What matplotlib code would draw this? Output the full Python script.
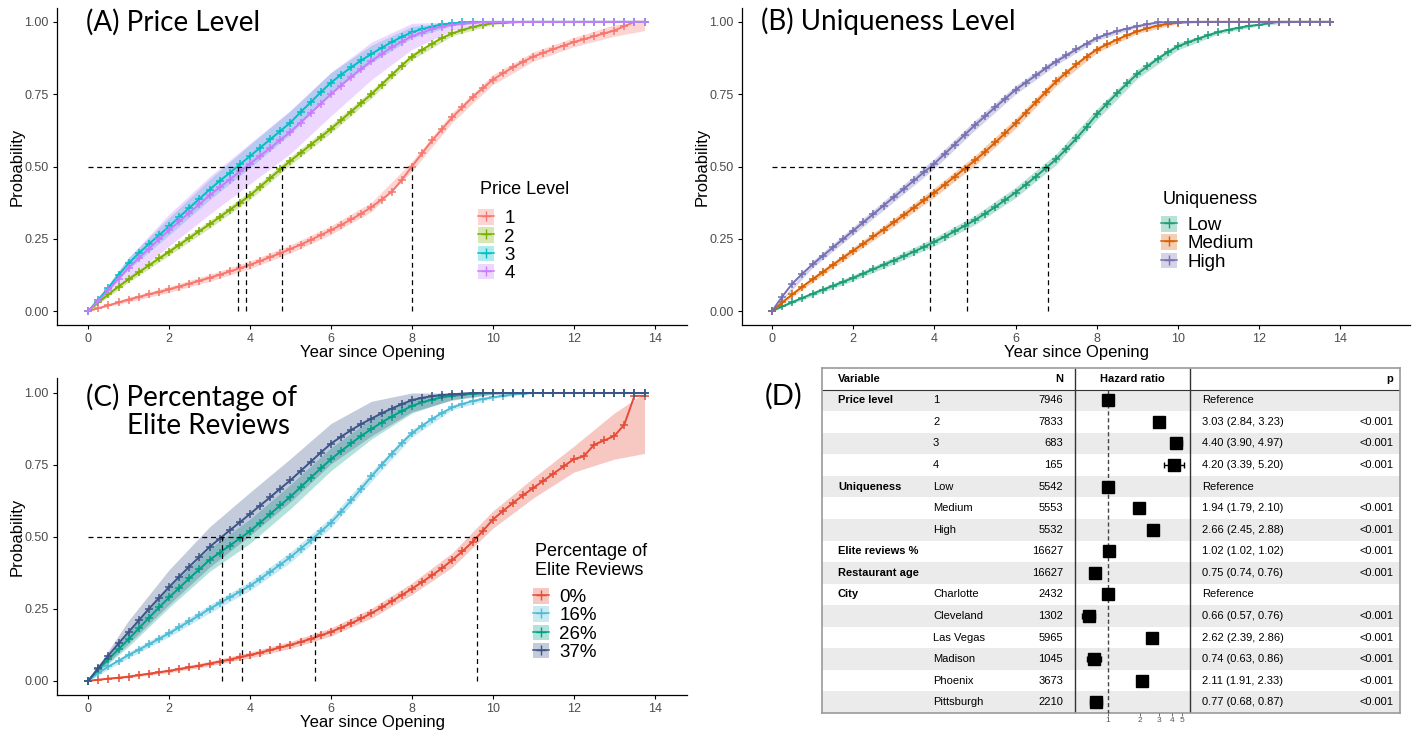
import numpy as np
import matplotlib
matplotlib.use('Agg')
import matplotlib.pyplot as plt
from matplotlib.patches import Patch, Rectangle
from matplotlib.lines import Line2D

plt.rcParams['font.family'] = ['Liberation Sans', 'DejaVu Sans']

# tempo em anos (grade de um quarto de ano)
years = [i / 4 for i in range(56)]

# (A) nível de preço - probabilidade acumulada (4 valores por ano)
price_labels = ['1', '2', '3', '4']
price_colors = ['#F8766D', '#7CAE00', '#00BFC4', '#C77CFF']
price_1 = [0, .01, .02, .03, .04, .049, .058, .066, .075, .085, .095, .105,
           .115, .126, .137, .148, .16, .173, .187, .20, .215, .23, .246, .263,
           .28, .298, .317, .337, .36, .385, .412, .453, .50, .545, .59, .63,
           .67, .705, .74, .77, .80, .822, .843, .862, .88, .893, .906, .918,
           .93, .94, .95, .96, .97, .985, 1, 1]
price_2 = [0, .03, .058, .085, .11, .134, .158, .182, .205, .229, .253, .277,
           .30, .325, .35, .375, .40, .43, .46, .49, .52, .547, .575, .602,
           .63, .66, .69, .72, .75, .783, .816, .849, .88, .903, .925, .945,
           .96, .972, .982, .99, .995, .997, .999, 1, 1, 1, 1, 1,
           1, 1, 1, 1, 1, 1, 1, 1]
price_3 = [0, .04, .08, .125, .165, .20, .232, .262, .293, .325, .357, .388,
           .42, .45, .478, .507, .536, .565, .594, .623, .652, .688, .722, .757,
           .79, .817, .843, .867, .889, .91, .93, .948, .964, .975, .984, .991,
           .995, .998, 1, 1, 1, 1, 1, 1, 1, 1, 1, 1,
           1, 1, 1, 1, 1, 1, 1, 1]
price_4 = [0, .035, .072, .112, .15, .183, .216, .248, .28, .31, .34, .37,
           .40, .428, .455, .483, .51, .537, .564, .592, .62, .652, .685, .717,
           .75, .78, .81, .838, .865, .889, .912, .932, .95, .963, .975, .984,
           .99, .994, .997, .999, 1, 1, 1, 1, 1, 1, 1, 1,
           1, 1, 1, 1, 1, 1, 1, 1]
# meia largura do intervalo de confiança (anos 0..13 e 13.75)
price_ci = [
    [0, .008, .01, .012, .013, .014, .015, .016, .017, .017, .017, .016, .016, .02, .03],
    [0, .01, .012, .013, .014, .014, .014, .013, .011, .008, .004, 0, 0, 0, 0],
    [0, .02, .03, .035, .04, .04, .035, .03, .02, .008, 0, 0, 0, 0, 0],
    [0, .035, .055, .065, .07, .075, .075, .065, .045, .02, .005, 0, 0, 0, 0],
]
price_medians = [3.7, 3.9, 4.8, 8.0]

# (B) singularidade
uniq_labels = ['Low', 'Medium', 'High']
uniq_colors = ['#1B9E77', '#D95F02', '#7570B3']
uniq_low = [0, .016, .031, .046, .06, .074, .087, .101, .115, .13, .145, .16,
            .175, .19, .206, .222, .24, .257, .276, .295, .315, .337, .36, .385,
            .41, .437, .465, .495, .525, .56, .597, .637, .68, .717, .753, .787,
            .82, .846, .872, .895, .915, .929, .942, .954, .965, .973, .98, .986,
            .99, .995, 1, 1, 1, 1, 1, 1]
uniq_med = [0, .03, .058, .085, .11, .135, .16, .185, .209, .233, .258, .282,
            .307, .332, .358, .384, .41, .437, .465, .493, .521, .551, .583, .616,
            .649, .686, .722, .758, .794, .824, .853, .88, .904, .922, .939, .954,
            .967, .978, .987, .993, .997, .999, 1, 1, 1, 1, 1, 1,
            1, 1, 1, 1, 1, 1, 1, 1]
uniq_high = [0, .05, .095, .13, .162, .191, .22, .249, .278, .307, .336, .365,
             .394, .423, .452, .481, .51, .543, .576, .61, .643, .674, .705, .735,
             .765, .79, .815, .84, .863, .884, .905, .925, .944, .957, .968, .977,
             .985, .992, .998, .999, 1, 1, 1, 1, 1, 1, 1, 1,
             1, 1, 1, 1, 1, 1, 1, 1]
uniq_ci = [
    [0, .008, .01, .012, .014, .016, .018, .019, .019, .016, .012, .007, .003, 0, 0],
    [0, .01, .012, .014, .016, .017, .017, .015, .011, .007, .003, 0, 0, 0, 0],
    [0, .012, .014, .016, .017, .017, .015, .012, .008, .004, 0, 0, 0, 0, 0],
]
uniq_medians = [3.9, 4.8, 6.8]

# (C) porcentagem de reviews elite
elite_labels = ['0%', '16%', '26%', '37%']
elite_colors = ['#E64B35', '#4DBBD5', '#00A087', '#3C5488']
elite_0 = [0, .004, .008, .011, .015, .02, .025, .03, .035, .041, .047, .053,
           .06, .067, .074, .082, .09, .098, .107, .116, .125, .135, .146, .158,
           .17, .185, .2, .217, .235, .255, .276, .298, .32, .343, .367, .392,
           .42, .45, .483, .52, .56, .59, .618, .645, .67, .695, .72, .745,
           .77, .78, .82, .835, .85, .89, .99, .99]
elite_16 = [0, .027, .05, .07, .09, .108, .127, .146, .165, .186, .207, .228,
            .25, .27, .29, .31, .33, .354, .379, .404, .43, .459, .488, .519,
            .55, .587, .627, .668, .71, .75, .789, .826, .86, .886, .91, .931,
            .95, .962, .972, .979, .985, .99, .995, .998, 1, 1, 1, 1,
            1, 1, 1, 1, 1, 1, 1, 1]
elite_26 = [0, .04, .075, .11, .145, .182, .219, .255, .29, .323, .356, .388,
            .42, .445, .47, .495, .52, .55, .58, .61, .64, .673, .706, .738,
            .77, .798, .825, .851, .875, .897, .918, .937, .955, .967, .977, .985,
            .99, .994, .997, .999, 1, 1, 1, 1, 1, 1, 1, 1,
            1, 1, 1, 1, 1, 1, 1, 1]
elite_37 = [0, .045, .088, .13, .17, .21, .25, .288, .326, .362, .397, .431,
            .465, .494, .523, .551, .58, .609, .638, .668, .697, .729, .761, .793,
            .824, .848, .871, .892, .911, .929, .946, .961, .975, .983, .989, .993,
            .995, .998, 1, 1, 1, 1, 1, 1, 1, 1, 1, 1,
            1, 1, 1, 1, 1, 1, 1, 1]
elite_ci = [
    [0, .004, .006, .008, .01, .012, .014, .017, .02, .025, .03, .035, .045, .08, .2],
    [0, .01, .012, .014, .016, .018, .018, .017, .013, .008, .004, 0, 0, 0, 0],
    [0, .025, .035, .04, .042, .042, .04, .035, .025, .012, .004, 0, 0, 0, 0],
    [0, .04, .06, .07, .075, .075, .07, .06, .04, .02, .005, 0, 0, 0, 0],
]
elite_medians = [3.3, 3.8, 5.6, 9.6]

# (D) tabela do modelo de Cox
tab_group = ['Price level', '', '', '', 'Uniqueness', '', '', 'Elite reviews %',
             'Restaurant age', 'City', '', '', '', '', '']
tab_level = ['1', '2', '3', '4', 'Low', 'Medium', 'High', '', '', 'Charlotte',
             'Cleveland', 'Las Vegas', 'Madison', 'Phoenix', 'Pittsburgh']
tab_n = [7946, 7833, 683, 165, 5542, 5553, 5532, 16627, 16627, 2432, 1302,
         5965, 1045, 3673, 2210]
tab_hr = [1, 3.03, 4.40, 4.20, 1, 1.94, 2.66, 1.02, 0.75, 1, 0.66, 2.62, 0.74, 2.11, 0.77]
tab_lo = [1, 2.84, 3.90, 3.39, 1, 1.79, 2.45, 1.02, 0.74, 1, 0.57, 2.39, 0.63, 1.91, 0.68]
tab_hi = [1, 3.23, 4.97, 5.20, 1, 2.10, 2.88, 1.02, 0.76, 1, 0.76, 2.86, 0.86, 2.33, 0.87]
tab_ref = [True, False, False, False, True, False, False, False, False, True,
           False, False, False, False, False]

W, H = 1414, 730
fig = plt.figure(figsize=(W / 100, H / 100), dpi=100)


def fx(px):
    return px / W


def fy(py):
    return 1 - py / H


def desenha_curva(ax, vals, ci, color):
    t = np.array(years)
    v = np.array(vals)
    idx = list(range(0, 56, 4)) + [55]
    h = np.array(ci)
    ax.fill_between(t[idx], np.clip(v[idx] - h, 0, 1), np.clip(v[idx] + h, 0, 1),
                    color=color, alpha=0.3, lw=0)
    ax.plot(t, v, color=color, lw=1.4, marker='+', ms=6, mew=1.1)


def estilo(ax, xlim, ylim):
    ax.set_xlim(*xlim)
    ax.set_ylim(*ylim)
    ax.set_xticks(range(0, 15, 2))
    ax.set_yticks([0, .25, .5, .75, 1])
    ax.set_yticklabels(['0.00', '0.25', '0.50', '0.75', '1.00'])
    for s in ['top', 'right']:
        ax.spines[s].set_visible(False)
    for s in ['left', 'bottom']:
        ax.spines[s].set_linewidth(0.9)
    ax.tick_params(direction='out', length=3, width=0.8, labelsize=9,
                   labelcolor='#4D4D4D', pad=3)
    ax.set_xlabel('Year since Opening', fontsize=12, labelpad=0)
    ax.set_ylabel('Probability', fontsize=12, labelpad=0)


def medianas(ax, meds):
    ax.hlines(0.5, 0, max(meds), color='black', lw=0.9, ls=(0, (4, 3)))
    ax.vlines(meds, 0, 0.5, color='black', lw=0.9, ls=(0, (4, 3)))


def legenda(ax, labels, colors, title, x, ytitle, yfirst):
    handles = [(Patch(facecolor=c, alpha=0.3, lw=0),
                Line2D([], [], color=c, marker='+', ms=7, lw=1.1)) for c in colors]
    ax.legend(handles, labels, loc='upper left',
              bbox_to_anchor=(fx(x - 2), fy(yfirst - 9)), bbox_transform=fig.transFigure,
              frameon=False, fontsize=13.5,
              handlelength=0.85, handleheight=0.9, labelspacing=0.0,
              handletextpad=0.55, borderpad=0, borderaxespad=0)
    fig.text(fx(x), fy(ytitle), title, fontsize=13, va='center', ha='left',
             linespacing=1.1)


# painel A
axA = fig.add_axes([fx(57), fy(325), fx(687 - 57), (325 - 8) / H])
for vals, ci, c in zip([price_1, price_2, price_3, price_4], price_ci, price_colors):
    desenha_curva(axA, vals, ci, c)
medianas(axA, price_medians)
estilo(axA, (-0.77, 14.8), (-0.048, 1.048))
legenda(axA, price_labels, price_colors, 'Price Level', 480, 190, 218)
fig.text(fx(86), fy(22), '(A) Price Level', fontsize=20, family='Lato', va='center')

# painel B
axB = fig.add_axes([fx(742), fy(325), fx(1410 - 742), (325 - 8) / H])
for vals, ci, c in zip([uniq_low, uniq_med, uniq_high], uniq_ci, uniq_colors):
    desenha_curva(axB, vals, ci, c)
medianas(axB, uniq_medians)
estilo(axB, (-0.74, 15.72), (-0.048, 1.048))
legenda(axB, uniq_labels, uniq_colors, 'Uniqueness', 1163, 200, 225)
fig.text(fx(761), fy(21), '(B) Uniqueness Level', fontsize=20, family='Lato', va='center')

# painel C
axC = fig.add_axes([fx(57), fy(695), fx(687 - 57), (695 - 378) / H])
for vals, ci, c in zip([elite_0, elite_16, elite_26, elite_37], elite_ci, elite_colors):
    desenha_curva(axC, vals, ci, c)
medianas(axC, elite_medians)
estilo(axC, (-0.77, 14.8), (-0.049, 1.052))
legenda(axC, elite_labels, elite_colors, 'Percentage of\nElite Reviews', 535, 561, 597)
fig.text(fx(86), fy(397), '(C) Percentage of', fontsize=20, family='Lato', va='center')
fig.text(fx(127), fy(426), 'Elite Reviews', fontsize=20, family='Lato', va='center')

# painel D - tabela
x0, x1, y0, y1 = 822, 1400, 368, 713
axT = fig.add_axes([fx(x0), fy(y1), fx(x1 - x0), (y1 - y0) / H])
nrow = len(tab_n) + 1
axT.set_xlim(x0, x1)
axT.set_ylim(nrow, 0)
axT.set_xticks([])
axT.set_yticks([])
for s in axT.spines.values():
    s.set_color('#9a9a9a')
    s.set_linewidth(1.2)
for i in range(1, nrow):
    if i % 2 == 1:
        axT.add_patch(Rectangle((x0, i), x1 - x0, 1, color='#ebebeb', lw=0))
axT.hlines(1, x0, x1, color='#333333', lw=0.8)
axT.vlines([1075, 1190], 0, nrow, color='#333333', lw=1.0)
fs = 8
axT.text(838, 0.5, 'Variable', fontsize=fs, weight='bold', va='center')
axT.text(1063, 0.5, 'N', fontsize=fs, weight='bold', va='center', ha='right')
axT.text(1132, 0.5, 'Hazard ratio', fontsize=fs, weight='bold', va='center', ha='center')
axT.text(1393, 0.5, 'p', fontsize=fs, weight='bold', va='center', ha='right')
for i in range(len(tab_n)):
    yy = i + 1.5
    axT.text(838, yy, tab_group[i], fontsize=fs, weight='bold', va='center')
    axT.text(933, yy, tab_level[i], fontsize=fs, va='center')
    axT.text(1063, yy, str(tab_n[i]), fontsize=fs, va='center', ha='right')
    if tab_ref[i]:
        axT.text(1202, yy, 'Reference', fontsize=fs, va='center')
    else:
        axT.text(1202, yy, f'{tab_hr[i]:.2f} ({tab_lo[i]:.2f}, {tab_hi[i]:.2f})',
                 fontsize=fs, va='center')
        axT.text(1393, yy, '<0.001', fontsize=fs, va='center', ha='right')

axF = fig.add_axes([fx(1075), fy(y1), fx(1190 - 1075), (y1 - y0) / H])
axF.patch.set_alpha(0)
axF.set_xscale('log')
axF.set_xlim(0.488, 5.94)
axF.set_ylim(nrow, 0)
for s in axF.spines.values():
    s.set_visible(False)
axF.set_yticks([])
axF.vlines(1, 1, nrow, color='#444444', lw=1.0, ls=(0, (3, 2)))
hr = np.array(tab_hr)
rows = np.arange(len(hr)) + 1.5
axF.errorbar(hr, rows, xerr=[hr - np.array(tab_lo), np.array(tab_hi) - hr],
             fmt='s', color='black', ms=9, capsize=2, elinewidth=1.0, capthick=1.0)
axF.set_xticks([1, 2, 3, 4, 5])
axF.set_xticklabels(['1', '2', '3', '4', '5'])
axF.xaxis.set_minor_locator(matplotlib.ticker.NullLocator())
axF.tick_params(axis='x', length=2, width=0.6, labelsize=6, labelcolor='#555555',
                color='#555555', pad=1)
fig.text(fx(784), fy(396), '(D)', fontsize=21, family='Lato', va='center', ha='center')

fig.savefig('out.png', dpi=100, facecolor='white')
